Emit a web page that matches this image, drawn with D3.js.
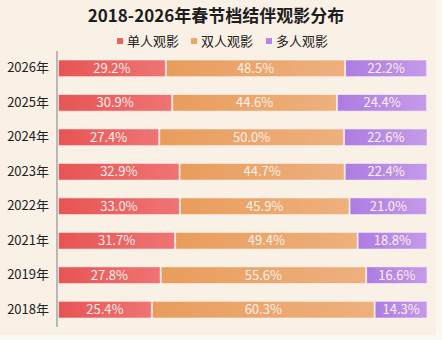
<!DOCTYPE html>
<html>
<head>
<meta charset="utf-8">
<script src="https://cdn.jsdelivr.net/npm/d3@7"></script>
<style>
  html, body { margin: 0; padding: 0; background: #fbf7f2; }
  svg { display: block; font-family: "Noto Sans CJK SC", "Noto Sans", sans-serif; }
</style>
</head>
<body>
<svg id="chart" width="442" height="340"></svg>
<script>
// Spring Festival moviegoing companionship share, by year
const years = ["2026年", "2025年", "2024年", "2023年", "2022年", "2021年", "2019年", "2018年"];
const seriesNames = ["单人观影", "双人观影", "多人观影"];
const solo   = [29.2, 30.9, 27.4, 32.9, 33.0, 31.7, 27.8, 25.4];
const duo    = [48.5, 44.6, 50.0, 44.7, 45.9, 49.4, 55.6, 60.3];
const group  = [22.2, 24.4, 22.6, 22.4, 21.0, 18.8, 16.6, 14.3];
const seriesColors = [["#e85454", "#ef7474"], ["#e99d5c", "#eeb07e"], ["#ad7ce2", "#c59ae8"]];

const W = 442, H = 340;
const margin = { top: 51, right: 14, bottom: 13, left: 57 };
const svg = d3.select("#chart");

svg.append("rect").attr("x", 0).attr("y", 0).attr("width", 436).attr("height", 335).attr("fill", "#f9f0e6");

const rows = years.map((y, i) => ({ year: y, solo: solo[i], duo: duo[i], group: group[i] }));
const keys = ["solo", "duo", "group"];
const stacked = d3.stack().keys(keys)(rows);

const x = d3.scaleLinear().domain([0, 100]).range([margin.left + 1, 427.5]);
const y = d3.scaleBand().domain(years).range([margin.top, H - margin.bottom]).paddingInner(0.515).paddingOuter(0.26);

// gradients
const defs = svg.append("defs");
seriesColors.forEach((c, i) => {
  const g = defs.append("linearGradient").attr("id", "grad" + i).attr("x1", "0%").attr("x2", "100%").attr("y1", "0%").attr("y2", "0%");
  g.append("stop").attr("offset", "0%").attr("stop-color", c[0]);
  g.append("stop").attr("offset", "100%").attr("stop-color", c[1]);
});

// title
svg.append("text").attr("x", 216).attr("y", 22).attr("text-anchor", "middle")
  .attr("font-size", 17).attr("font-weight", "bold").attr("fill", "#1e1e1e")
  .text("2018-2026年春节档结伴观影分布");

// legend
const legendX = [117, 191, 266];
const legend = svg.append("g");
seriesNames.forEach((name, i) => {
  legend.append("rect").attr("x", legendX[i]).attr("y", 38).attr("width", 6).attr("height", 6)
    .attr("fill", seriesColors[i][0]).attr("opacity", 0.9);
  legend.append("text").attr("x", legendX[i] + 10).attr("y", 46).attr("font-size", 13)
    .attr("fill", "#222").text(name);
});

// bars
const layers = svg.append("g").selectAll("g").data(stacked).join("g")
  .attr("fill", (d, i) => `url(#grad${i})`);

layers.selectAll("rect").data(d => d).join("rect")
  .attr("x", d => x(d[0]) + 0.5)
  .attr("y", d => y(d.data.year))
  .attr("width", d => x(d[1]) - x(d[0]) - 1)
  .attr("height", y.bandwidth())
  .attr("stroke", "rgba(255,255,255,0.55)")
  .attr("stroke-width", 1);

// value labels
stacked.forEach(layer => {
  svg.append("g").selectAll("text").data(layer).join("text")
    .attr("x", d => (x(d[0]) + x(d[1])) / 2)
    .attr("y", d => y(d.data.year) + y.bandwidth() / 2 + 4.5)
    .attr("text-anchor", "middle")
    .attr("font-size", 13)
    .attr("fill", "#fbf1ec")
    .text(d => d.data[layer.key].toFixed(1) + "%");
});

// y axis
const yAxis = svg.append("g").attr("transform", `translate(${margin.left},0)`)
  .call(d3.axisLeft(y).tickSize(0).tickPadding(8));
yAxis.select(".domain").attr("stroke", "#a5a5a5").attr("stroke-width", 1.5)
  .attr("d", `M0,${margin.top}V${H - margin.bottom}`);
yAxis.selectAll("text").attr("font-size", 13).attr("fill", "#222")
  .attr("font-family", "'Noto Sans CJK SC', 'Noto Sans', sans-serif");
</script>
</body>
</html>
